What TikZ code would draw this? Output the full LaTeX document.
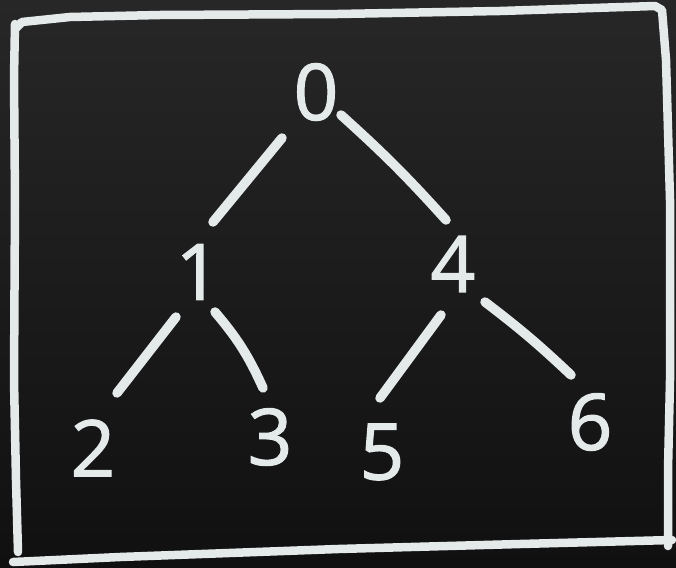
\documentclass[tikz,border=0pt]{standalone}
\usepackage{fontspec}
\setmainfont{Open Sans}
\newfontfamily\chalkfont{Open Sans}[FakeBold=1.6]
\definecolor{chalk}{HTML}{E4EAEA}
\definecolor{boardtop}{HTML}{272727}
\definecolor{boardbot}{HTML}{101010}
\tikzset{
  chalkline/.style={draw=chalk, line width=9.5pt, line cap=round, line join=round},
  frameline/.style={draw=chalk, line width=8.5pt, line cap=round, line join=round},
  digit/.style={text=chalk, inner sep=0pt, font=\chalkfont\fontsize{78}{78}\selectfont},
}
\begin{document}
\begin{tikzpicture}[x=1pt,y=-1pt]
  % board
  \shade[top color=boardtop, bottom color=boardbot] (0,0) rectangle (676,567);
  \useasboundingbox (0,0) rectangle (676,567);
  % chalk frame
  \draw[frameline] (16,28) -- (22,22) -- (70,17) -- (160,15) -- (338,14) -- (500,11) -- (655,6)
       -- (662,10) -- (666,60) -- (670,200) -- (670,380) -- (668,470) -- (668,546);
  \draw[frameline] (15,24) -- (14,78) -- (15,200) -- (14,380) -- (16,480) -- (18,552);
  \draw[frameline] (13,562) -- (120,557) -- (338,549) -- (520,544) -- (672,540);
  % nodes
  \node[digit] (n0) at (316,92) {0};
  \node[digit] (n1) at (198,272) {1};
  \node[digit] (n4) at (453,264) {4};
  \node[digit] (n2) at (93,448) {2};
  \node[digit] (n3) at (270,437) {3};
  \node[digit] (n5) at (382,452) {5};
  \node[digit] (n6) at (590,422) {6};
  % edges
  \draw[chalkline] ([shift={(-34,46)}]n0.center) -- ([shift={(15,-50)}]n1.center);
  \draw[chalkline] ([shift={(25,23)}]n0.center) to[bend left=3] ([shift={(-7,-44)}]n4.center);
  \draw[chalkline] ([shift={(-22,45)}]n1.center) -- ([shift={(24,-55)}]n2.center);
  \draw[chalkline] ([shift={(17,40)}]n1.center) to[bend left=8] ([shift={(-7,-49)}]n3.center);
  \draw[chalkline] ([shift={(-12,51)}]n4.center) -- ([shift={(-2,-54)}]n5.center);
  \draw[chalkline] ([shift={(32,38)}]n4.center) to[bend left=3] ([shift={(-19,-47)}]n6.center);
\end{tikzpicture}
\end{document}
